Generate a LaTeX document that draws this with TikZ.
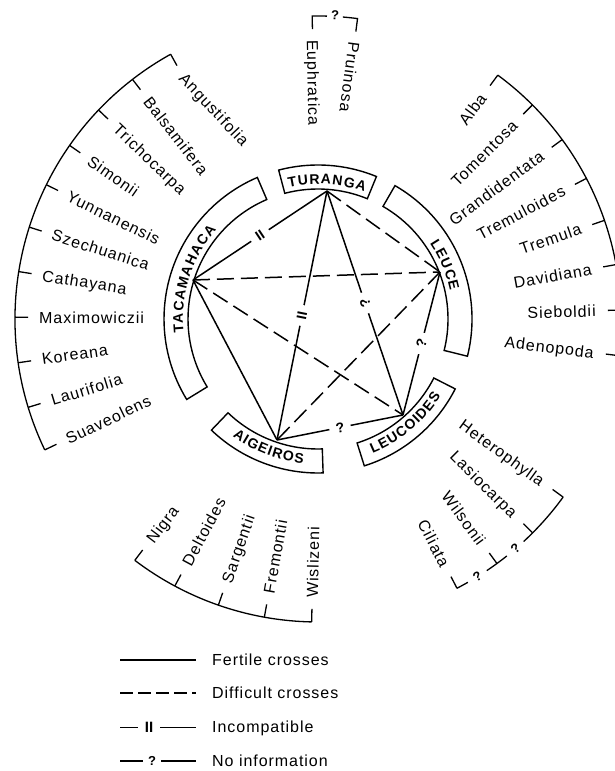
\documentclass[tikz,border=0pt]{standalone}
\usepackage{fontspec}
\setmainfont{Liberation Sans}
\newfontfamily\labf{Liberation Sans}[LetterSpace=6]
\usetikzlibrary{calc}
\tikzset{
  lab/.style={font=\labf\fontsize{16}{18}\selectfont, inner sep=0pt, text height=11.6pt, text depth=0pt},
  legt/.style={font=\labf\fontsize{16}{18}\selectfont, inner sep=0pt},
  boxletter/.style={font=\bfseries\fontsize{14}{16}\selectfont, inner sep=0pt},
  fert/.style={line width=1.5pt},
  diff/.style={line width=1.5pt, dash pattern=on 17pt off 7pt},
  legdiff/.style={line width=1.5pt, dash pattern=on 13pt off 5pt},
  arcline/.style={line width=1.3pt},
  boxline/.style={line width=1.4pt},
  gapl/.style={font=\bfseries\fontsize{14}{16}\selectfont, fill=white, inner xsep=6.5pt, inner ysep=1pt, sloped, pos=0.5},
  qm/.style={font=\bfseries\fontsize{13}{15}\selectfont, inner sep=0pt},
  legbar/.style={font=\bfseries\fontsize{15}{17}\selectfont, inner sep=0pt},
}
\newcommand\bwsp{80}
\newcommand\bwfs{14}
% sector box: start angle, end angle
\newcommand\sectorbox[2]{%
  \draw[boxline] ($(C)+(#1:130)$) arc[start angle=#1, end angle=#2, radius=130]
    -- ($(C)+(#2:154)$) arc[start angle=#2, end angle=#1, radius=154] -- cycle;}
% letters along an arc: mid angle, baseline radius, dir (1 cw / -1 ccw), name, list
\newcommand\boxword[5]{%
  \gdef\bwsum{0}%
  \foreach \ch/\w in {#5}{\pgfmathsetmacro\bwtmp{\bwsum+\w+\bwsp}\xdef\bwsum{\bwtmp}}%
  \pgfmathsetmacro\bwtotal{\bwsum-\bwsp}%
  \gdef\bwpos{0}%
  \foreach \ch/\w [count=\k] in {#5}{%
    \pgfmathsetmacro\bwoff{((\bwpos+\w/2)-\bwtotal/2)/1000*\bwfs}%
    \pgfmathsetmacro\bwang{#1-(#3)*\bwoff/(#2)*57.29578}%
    \pgfmathsetmacro\bwrot{\bwang-(#3)*90}%
    \node[boxletter, anchor=base, rotate=\bwrot] (#4\k) at ($(C)+(\bwang:#2)$) {\ch};%
    \pgfmathsetmacro\bwtmp{\bwpos+\w+\bwsp}\xdef\bwpos{\bwtmp}%
  }%
}
\newcommand\sptick[1]{\draw[arcline] ($(C)+(#1:303)$) -- ($(C)+(#1:290)$);}
\newcommand\inlab[3][0]{\node[lab, anchor=west, rotate={#2+180+#1}] (sp#3) at ($(C)+(#2:279)$) {#3};}
\newcommand\outlab[2]{\node[lab, anchor=east, rotate={#1}] (sp#2) at ($(C)+(#1:278)$) {#2};}
\begin{document}
\begin{tikzpicture}[x=1pt,y=1pt]
\useasboundingbox (0,0) rectangle (615,771);
\clip (0,0) rectangle (615,771);
\coordinate (C) at (318,452);

% ---------- section boxes ----------
\sectorbox{67.7}{104.8}
\sectorbox{113.2}{211.5}
\sectorbox{-14}{60}
\sectorbox{226.2}{271.9}
\sectorbox{-72.5}{-27}

\boxword{86.2}{135}{1}{TUR}{T/611,U/722,R/722,A/722,N/722,G/778,A/722}
\boxword{162.3}{135}{1}{TAC}{T/611,A/722,C/722,A/722,M/833,A/722,H/722,A/722,C/722,A/722}
\boxword{23}{135}{1}{LEU}{L/611,E/667,U/722,C/722,E/667}
\boxword{249}{145}{-1}{AIG}{A/722,I/278,G/778,E/667,I/278,R/722,O/778,S/667}
\boxword{310}{145}{-1}{LCO}{L/611,E/667,U/722,C/722,O/778,I/278,D/722,E/667,S/667}

% ---------- vertices ----------
\coordinate (T) at (327,580);
\coordinate (L) at (440,499);
\coordinate (TA) at (193,491);
\coordinate (A) at (277,331);
\coordinate (LO) at (403,356);

% ---------- crosses ----------
\draw[diff] (T) -- (L);
\draw[diff] (TA) -- (L);
\draw[diff] (TA) -- (LO);
\draw[diff] (L) -- (A);
\draw[fert] (TA) -- (A);
\draw[fert] (T) -- node[gapl]{II} (TA);
\draw[fert] (T) -- node[gapl]{II} (A);
\draw[fert] (LO) -- node[gapl, allow upside down]{?} (T);
\draw[fert] (LO) -- node[gapl]{?} (L);
\draw[fert] (A) -- node[gapl]{?} (LO);

% ---------- left species arc (Tacamahaca) ----------
\draw[arcline] ($(C)+(119.1:303)$) arc[start angle=119.1, end angle=205.6, radius=303];
\foreach \a in {119.1,127.75,136.4,145.05,153.7,162.35,171.0,179.65,188.3,196.95,205.6}{\sptick{\a}}
\inlab[14]{119.1}{Angustifolia}
\inlab{127.75}{Balsamifera}
\inlab{136.4}{Trichocarpa}
\inlab{145.05}{Simonii}
\inlab{153.7}{Yunnanensis}
\inlab{162.35}{Szechuanica}
\inlab{171.0}{Cathayana}
\inlab{179.65}{Maximowiczii}
\inlab{188.3}{Koreana}
\inlab{196.95}{Laurifolia}
\inlab{205.6}{Suaveolens}

% ---------- top bracket (Turanga) ----------
\draw[arcline] ($(C)+(91.1:290)$) -- ($(C)+(91.1:303)$) arc[start angle=91.1, end angle=88.3, radius=303];
\draw[arcline] ($(C)+(85.3:303)$) arc[start angle=85.3, end angle=82.5, radius=303] -- ($(C)+(82.5:290)$);
\node[qm, rotate=-3.2] (qtop) at ($(C)+(86.8:304)$) {?};
\inlab{91.1}{Euphratica}
\inlab{82.5}{Pruinosa}

% ---------- right species arc (Leuce) ----------
\draw[arcline] ($(C)+(53.6:303)$) arc[start angle=53.6, end angle=-6.95, radius=303];
\foreach \a in {53.6,44.95,36.3,27.65,19.0,10.35,1.7,-6.95}{\sptick{\a}}
\outlab{53.6}{Alba}
\outlab{44.95}{Tomentosa}
\outlab{36.3}{Grandidentata}
\outlab{27.65}{Tremuloides}
\outlab{19.0}{Tremula}
\outlab{10.35}{Davidiana}
\outlab{1.7}{Sieboldii}
\outlab{-6.95}{Adenopoda}

% ---------- Leucoides bracket ----------
\draw[arcline] ($(C)+(-36:303)$) arc[start angle=-36, end angle=-47.25, radius=303];
\draw[arcline] ($(C)+(-51.45:303)$) arc[start angle=-51.45, end angle=-56.15, radius=303];
\draw[arcline] ($(C)+(-60.35:303)$) arc[start angle=-60.35, end angle=-62.7, radius=303];
\foreach \a in {-36,-44.9,-53.8,-62.7}{\sptick{\a}}
\node[qm, rotate=40.65] (qlo1) at ($(C)+(-49.35:303)$) {?};
\node[qm, rotate=31.75] (qlo2) at ($(C)+(-58.25:303)$) {?};
\outlab{-36}{Heterophylla}
\outlab{-44.9}{Lasiocarpa}
\outlab{-53.8}{Wilsonii}
\outlab{-62.7}{Ciliata}

% ---------- Aigeiros arc ----------
\draw[arcline] ($(C)+(232.8:303)$) arc[start angle=232.8, end angle=268.8, radius=303];
\foreach \a in {232.8,241.8,250.8,259.8,268.8}{\sptick{\a}}
\inlab{232.8}{Nigra}
\inlab{241.8}{Deltoides}
\inlab{250.8}{Sargentii}
\inlab{259.8}{Fremontii}
\inlab{268.8}{Wislizeni}

% ---------- legend ----------
\coordinate (f1) at (120,111); \coordinate (f2) at (196,111);
\draw[fert] (f1) -- (f2);
\node[legt, anchor=base west] (lf) at (212,105.5) {Fertile crosses};
\coordinate (d1) at (120,78); \coordinate (d2) at (196,78);
\draw[legdiff] (d1) -- (d2);
\node[legt, anchor=base west] (ld) at (212,72.5) {Difficult crosses};
\coordinate (i1) at (120,43.5); \coordinate (i2) at (138,43.5);
\coordinate (i3) at (160,43.5); \coordinate (i4) at (196,43.5);
\draw[fert] (i1) -- (i2); \draw[fert] (i3) -- (i4);
\node[legbar] (li) at (149,43.5) {II};
\node[legt, anchor=base west] (lit) at (212,38) {Incompatible};
\coordinate (n1) at (120,10); \coordinate (n2) at (143,10);
\coordinate (n3) at (161,10); \coordinate (n4) at (196,10);
\draw[fert] (n1) -- (n2); \draw[fert] (n3) -- (n4);
\node[qm] (ln) at (152,10.5) {?};
\node[legt, anchor=base west] (lnt) at (212,4.5) {No information};
\end{tikzpicture}
\end{document}
